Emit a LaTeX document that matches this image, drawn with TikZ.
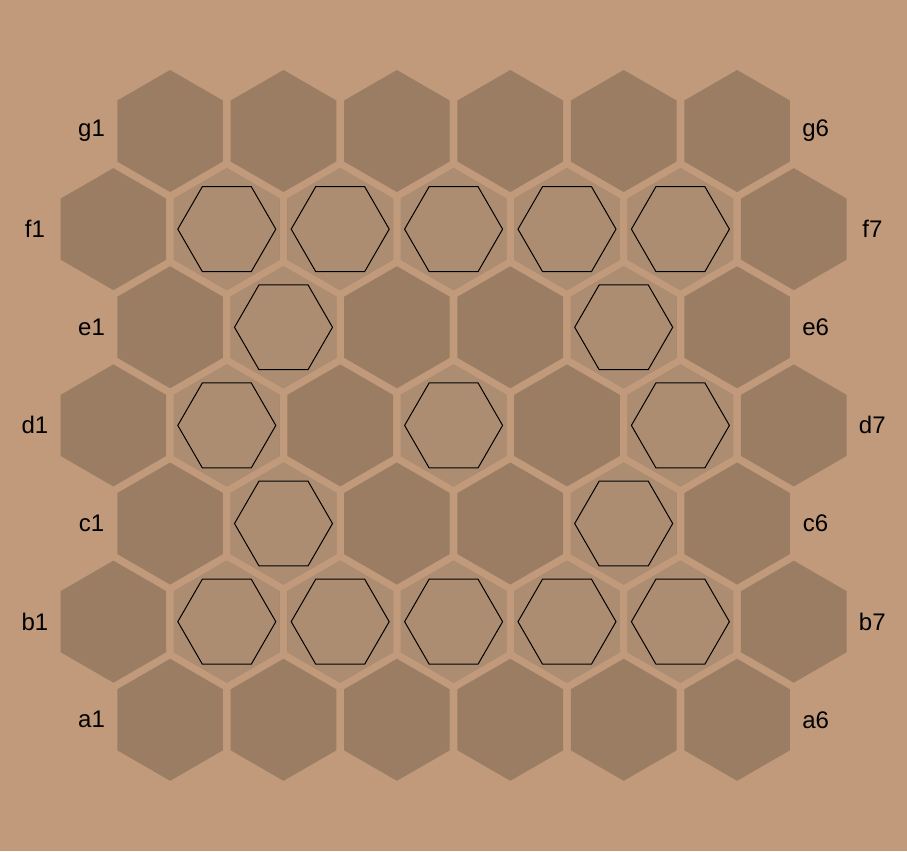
\documentclass[tikz,border=0pt]{standalone}
\usepackage{fontspec}
\setmainfont{Liberation Sans}
\usetikzlibrary{shapes.geometric}
\definecolor{board}{HTML}{C09A7A}
\definecolor{cellbg}{HTML}{9B7D63}
\definecolor{cellhi}{HTML}{AD8D71}

\begin{document}
\begin{tikzpicture}[
x=0.75pt, y=0.75pt,
every node/.style={font=\fontsize{18}{20}\selectfont},
cell/.style={regular polygon, regular polygon sides=6, shape border rotate=30, minimum size=91.5pt, inner sep=0pt, fill=cellbg},
ring/.style={regular polygon, regular polygon sides=6, minimum size=73.5pt, inner sep=0pt, draw=black, line width=0.75pt},
lbl/.style={text=black}
]
\useasboundingbox (0,0) rectangle (907,851);
\fill[board] (0,0) rectangle (907,851);
% rows a (bottom) to g (top)
\foreach \r/\n/\k in {a/6/0,b/7/1,c/6/2,d/7/3,e/6/4,f/7/5,g/6/6}{
  \pgfmathsetmacro\yy{131.2+98.13*\k}
  \pgfmathsetmacro\xo{\n==7 ? 0 : 56.7}
  \foreach \c in {1,...,\n}
    \node[cell] (\r\c) at (\xo+113.4*\c,\yy) {};
  \node[lbl] (\r-w) at ([xshift=-58.9pt]\r1.center) {\r1};
  \node[lbl] (\r-e) at ([xshift=58.9pt]\r\n.center) {\r\n};
}
% marked cells
\foreach \m in {b2,b3,b4,b5,b6,c2,c5,d2,d4,d6,e2,e5,f2,f3,f4,f5,f6}{
  \node[cell, fill=cellhi] (\m-hi) at (\m) {};
  \node[ring] (\m-ring) at (\m) {};
}
\end{tikzpicture}
\end{document}
